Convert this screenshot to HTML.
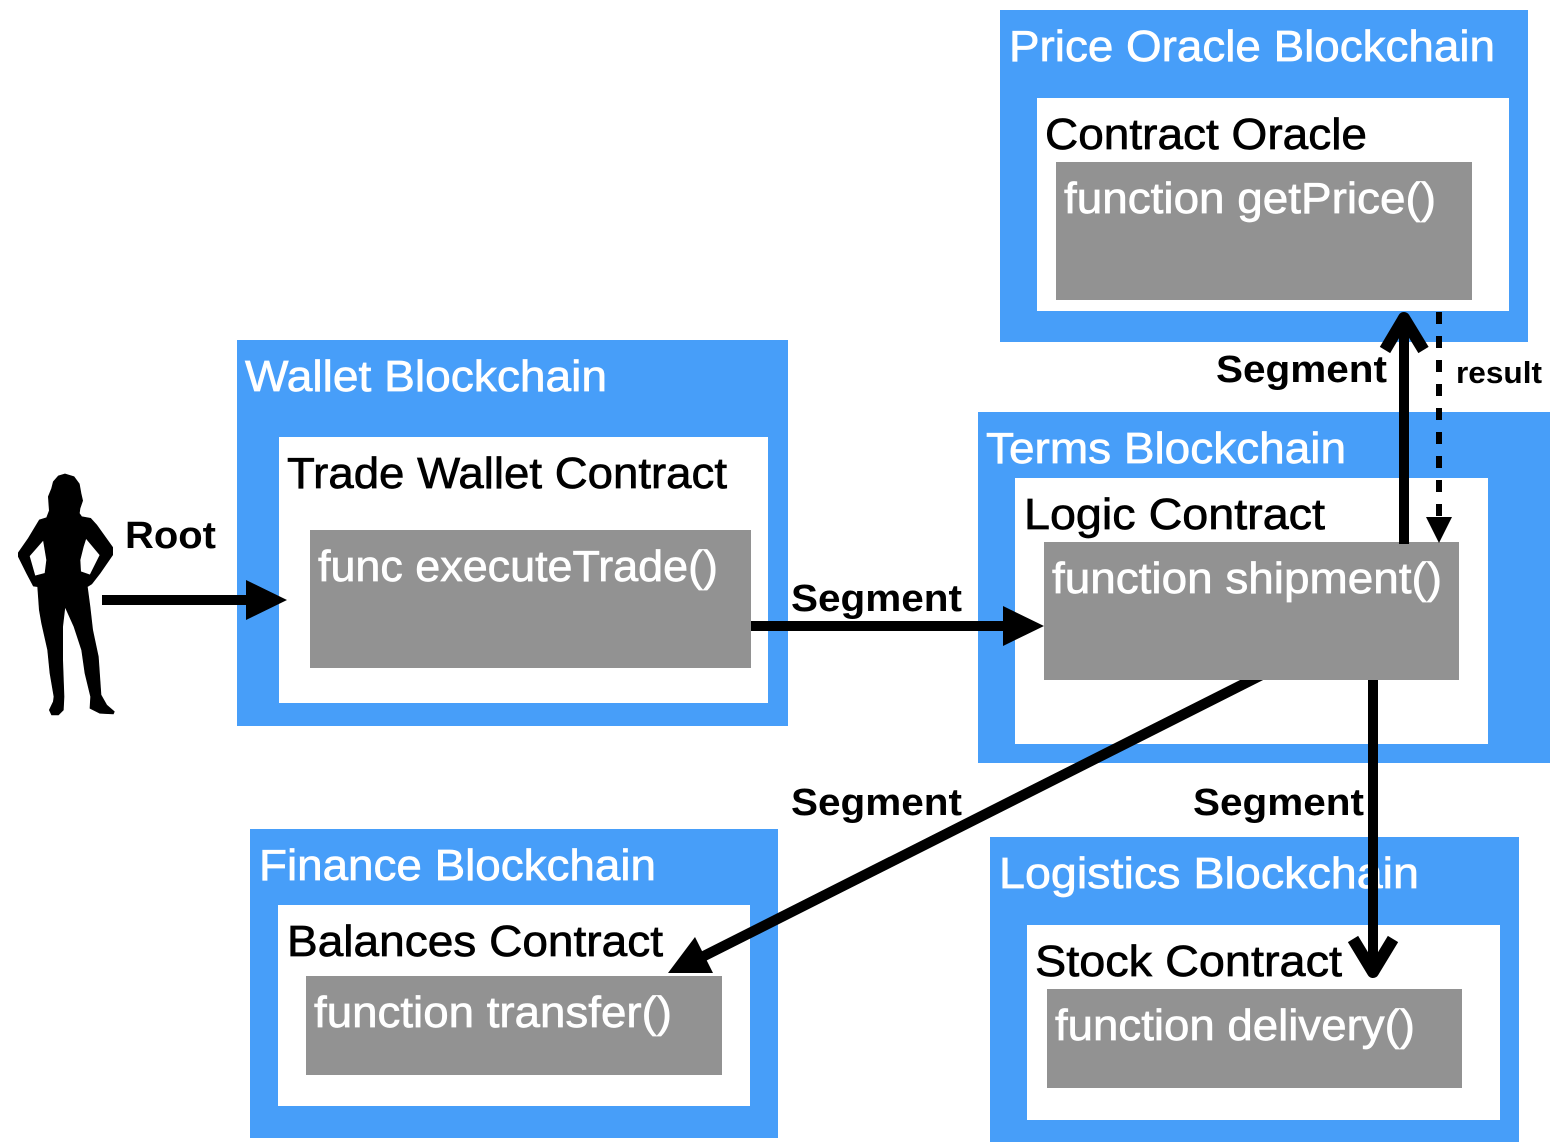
<!DOCTYPE html>
<html><head><meta charset="utf-8"><style>
html,body{margin:0;padding:0;background:#fff;width:1556px;height:1148px;overflow:hidden}
svg{display:block}
text{font-family:"Liberation Sans",Arial,sans-serif;font-size:44px}
.w{fill:#fff;stroke:#fff;stroke-width:.7px}.k{fill:#000;stroke:#000;stroke-width:.7px}
.l{font-weight:bold;font-size:38px;fill:#000}
</style></head><body>
<svg width="1556" height="1148" viewBox="0 0 1556 1148" xmlns="http://www.w3.org/2000/svg">
<g fill="#479ef9">
<rect x="1000" y="10" width="528" height="332"/>
<rect x="237" y="340" width="551" height="386"/>
<rect x="978" y="412" width="572" height="351"/>
<rect x="250" y="829" width="528" height="309"/>
<rect x="990" y="837" width="529" height="305"/>
</g>
<g fill="#fff">
<rect x="1037" y="98" width="472" height="213"/>
<rect x="279" y="437" width="489" height="266"/>
<rect x="1015" y="478" width="473" height="266"/>
<rect x="278" y="905" width="472" height="201"/>
<rect x="1027" y="925" width="473" height="195"/>
</g>
<path d="M1267.5 672 L704 956" stroke="#000" stroke-width="10.4" fill="none"/>
<g fill="#929292">
<rect x="1056" y="162" width="416" height="138"/>
<rect x="310" y="530" width="441" height="138"/>
<rect x="1044" y="542" width="415" height="138"/>
<rect x="306" y="976" width="416" height="99"/>
<rect x="1047" y="989" width="415" height="99"/>
</g>
<text class="w" x="1009" y="61" textLength="486" lengthAdjust="spacingAndGlyphs">Price Oracle Blockchain</text>
<text class="k" x="1045" y="149" textLength="322" lengthAdjust="spacingAndGlyphs">Contract Oracle</text>
<text class="w" x="1064" y="213" textLength="372" lengthAdjust="spacingAndGlyphs">function getPrice()</text>
<text class="w" x="245" y="391" textLength="362" lengthAdjust="spacingAndGlyphs">Wallet Blockchain</text>
<text class="k" x="287" y="488" textLength="440" lengthAdjust="spacingAndGlyphs">Trade Wallet Contract</text>
<text class="w" x="318" y="581" textLength="400" lengthAdjust="spacingAndGlyphs">func executeTrade()</text>
<text class="w" x="986" y="463" textLength="360" lengthAdjust="spacingAndGlyphs">Terms Blockchain</text>
<text class="k" x="1024" y="529" textLength="301" lengthAdjust="spacingAndGlyphs">Logic Contract</text>
<text class="w" x="1052" y="593" textLength="390" lengthAdjust="spacingAndGlyphs">function shipment()</text>
<text class="w" x="259" y="880" textLength="397" lengthAdjust="spacingAndGlyphs">Finance Blockchain</text>
<text class="k" x="287" y="956" textLength="376" lengthAdjust="spacingAndGlyphs">Balances Contract</text>
<text class="w" x="314" y="1027" textLength="358" lengthAdjust="spacingAndGlyphs">function transfer()</text>
<text class="w" x="999" y="888" textLength="420" lengthAdjust="spacingAndGlyphs">Logistics Blockchain</text>
<text class="k" x="1035" y="976" textLength="307" lengthAdjust="spacingAndGlyphs">Stock Contract</text>
<text class="w" x="1055" y="1040" textLength="360" lengthAdjust="spacingAndGlyphs">function delivery()</text>
<text class="l" x="125" y="548" textLength="91" lengthAdjust="spacingAndGlyphs">Root</text>
<text class="l" x="791" y="611" textLength="171" lengthAdjust="spacingAndGlyphs">Segment</text>
<text class="l" x="1216" y="382" textLength="171" lengthAdjust="spacingAndGlyphs">Segment</text>
<text class="l" x="791" y="815" textLength="171" lengthAdjust="spacingAndGlyphs">Segment</text>
<text class="l" x="1193" y="815" textLength="171" lengthAdjust="spacingAndGlyphs">Segment</text>
<text class="l" x="1456" y="383" style="font-size:31px" textLength="86" lengthAdjust="spacingAndGlyphs">result</text>
<g stroke="#000" fill="none" stroke-width="10">
<path d="M102 600H250"/>
<path d="M751 626H1006"/>
<path d="M1404 544V320"/>
<path d="M1385 350L1404 318L1423.5 350" stroke-width="12" stroke-linejoin="round"/>
<path d="M1373 680V970"/>
<path d="M1353 939L1373 972L1393 939" stroke-width="12" stroke-linejoin="round"/>
<path d="M1439 312V518" stroke-width="6" stroke-dasharray="12 12"/>
</g>
<polygon points="246,580 287,600 246,620"/>
<polygon points="1003,606 1044,626 1003,646"/>
<polygon points="1426,517 1452,517 1439,543"/>
<polygon points="668,973 695,937 713,973"/>
<g transform="translate(0 460) scale(.3333)">
<path fill-rule="evenodd" stroke="#000" stroke-width="2" stroke-linejoin="round" d="M195 42L222 50L238 72L243 100L248 122L240 145L238 160L245 170L272 175L290 195L338 262L338 285L300 340L275 372L262 380L270 440L278 510L295 590L303 705L320 735L343 755L340 762L300 760L270 745L272 710L255 640L245 570L222 500L195 440L188 500L188 600L192 710L190 750L175 765L155 765L148 750L160 725L162 710L150 640L143 570L125 490L118 450L113 380L100 378L80 340L55 290L55 278L85 235L118 180L140 173L148 152L145 110L155 85L160 65L175 48ZM130 240L88 288L105 348L135 340L140 300L135 270ZM258 235L250 260L240 300L242 335L270 345L300 285Z"/>
</g>
</svg>
</body></html>
